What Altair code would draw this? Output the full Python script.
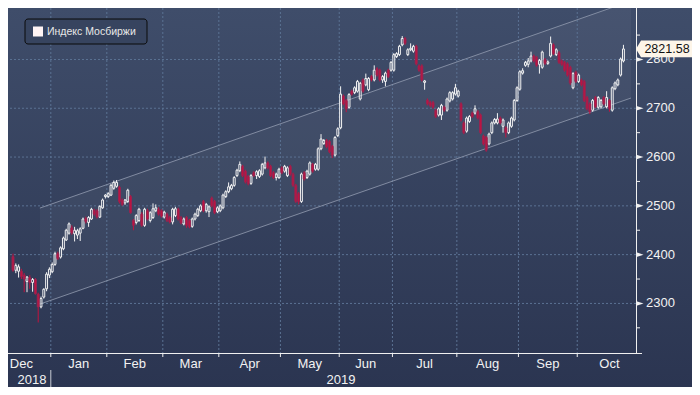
import altair as alt
import pandas as pd

# ---------------- data ----------------
FIRST_INDEX = -14  # trading-day index of first candle (0 = first trading day of January)

opens = [
    2396, 2368, 2366, 2366, 2358, 2345, 2353, 2343, 2349, 2319, 2293, 2313, 2330, 2358,
    2365, 2380, 2402, 2395, 2412, 2430, 2444, 2455, 2443, 2440, 2444, 2454, 2474, 2466, 2473, 2491, 2490, 2477, 2496, 2519,
    2519, 2522, 2536, 2540, 2538, 2512, 2506, 2509, 2519, 2470, 2466, 2470, 2483, 2460, 2490, 2470, 2476, 2490, 2493, 2490,
    2477, 2483, 2476, 2467, 2480, 2493, 2476, 2463, 2476, 2470, 2458, 2473, 2480, 2490, 2509, 2490, 2488, 2516, 2509, 2488,
    2490, 2496, 2519, 2529, 2535, 2542, 2562, 2572, 2581, 2571, 2560, 2546, 2568, 2562, 2560, 2565, 2578, 2588, 2581, 2568, 2558, 2558,
    2578, 2571, 2562, 2581, 2565, 2542, 2525, 2509, 2568, 2558, 2565, 2585, 2575, 2575, 2617, 2628, 2634, 2632, 2622, 2604, 2644,
    2660, 2725, 2716, 2702, 2735, 2732, 2735, 2719, 2758, 2748, 2738, 2765, 2758, 2781, 2778, 2758, 2755, 2778, 2778,
    2778, 2806, 2810, 2830, 2843, 2810, 2820, 2817, 2827, 2787, 2787, 2753, 2717, 2712, 2712, 2696, 2686, 2686, 2702, 2696, 2715, 2719, 2729,
    2725, 2709, 2670, 2653, 2673, 2690, 2690, 2693, 2686, 2643, 2640, 2627, 2650, 2670, 2670, 2680, 2663, 2660, 2650, 2663, 2676, 2716,
    2739, 2772, 2788, 2790, 2797, 2807, 2804, 2790, 2784, 2800, 2792, 2807, 2830, 2810, 2814, 2797, 2794, 2791, 2784, 2742, 2774,
    2755, 2758, 2755, 2722, 2709, 2696, 2722, 2702, 2703, 2722, 2703, 2716, 2696, 2740, 2748, 2768, 2797,
]
highs = [
    2402, 2382, 2380, 2371, 2362, 2356, 2358, 2352, 2352, 2322, 2314, 2331, 2364, 2374,
    2384, 2406, 2406, 2417, 2437, 2453, 2466, 2460, 2457, 2453, 2456, 2476, 2478, 2479, 2496, 2494, 2493, 2501, 2515, 2524,
    2528, 2545, 2552, 2553, 2541, 2515, 2514, 2535, 2522, 2473, 2483, 2496, 2487, 2496, 2494, 2489, 2505, 2503, 2497, 2493,
    2490, 2486, 2479, 2496, 2498, 2496, 2479, 2476, 2479, 2473, 2476, 2486, 2496, 2503, 2512, 2506, 2501, 2519, 2512, 2499,
    2503, 2525, 2532, 2548, 2545, 2561, 2576, 2591, 2584, 2574, 2563, 2565, 2571, 2573, 2575, 2588, 2601, 2591, 2584, 2571, 2568, 2578,
    2581, 2584, 2581, 2584, 2568, 2545, 2528, 2568, 2571, 2574, 2591, 2588, 2588, 2620, 2647, 2637, 2637, 2635, 2625, 2643, 2661,
    2745, 2728, 2719, 2731, 2738, 2745, 2758, 2754, 2761, 2771, 2764, 2768, 2788, 2784, 2781, 2768, 2775, 2781, 2797,
    2813, 2815, 2830, 2848, 2846, 2823, 2833, 2830, 2830, 2790, 2790, 2758, 2720, 2715, 2715, 2699, 2702, 2709, 2705, 2722, 2735, 2735, 2750,
    2738, 2712, 2673, 2683, 2686, 2693, 2706, 2696, 2689, 2646, 2643, 2650, 2673, 2680, 2690, 2683, 2679, 2663, 2673, 2683, 2719, 2745,
    2778, 2782, 2797, 2803, 2816, 2810, 2807, 2801, 2818, 2803, 2798, 2847, 2833, 2823, 2817, 2800, 2797, 2794, 2787, 2774, 2777,
    2771, 2761, 2758, 2725, 2712, 2719, 2725, 2725, 2719, 2725, 2735, 2719, 2745, 2755, 2761, 2804, 2830,
]
lows = [
    2365, 2362, 2353, 2350, 2323, 2323, 2330, 2324, 2318, 2261, 2290, 2310, 2325, 2352,
    2362, 2377, 2389, 2392, 2409, 2428, 2441, 2441, 2427, 2432, 2428, 2452, 2464, 2457, 2471, 2480, 2474, 2475, 2494, 2515,
    2516, 2520, 2533, 2537, 2505, 2500, 2502, 2506, 2484, 2450, 2462, 2467, 2457, 2457, 2470, 2466, 2473, 2487, 2480, 2476,
    2474, 2467, 2464, 2462, 2477, 2470, 2462, 2460, 2455, 2454, 2455, 2470, 2477, 2487, 2487, 2486, 2477, 2497, 2483, 2485,
    2487, 2493, 2516, 2526, 2532, 2539, 2559, 2569, 2559, 2546, 2542, 2543, 2559, 2555, 2557, 2562, 2575, 2575, 2559, 2555, 2552, 2555,
    2565, 2568, 2559, 2562, 2539, 2506, 2503, 2506, 2552, 2555, 2562, 2568, 2572, 2572, 2614, 2625, 2618, 2608, 2598, 2601, 2641,
    2657, 2706, 2692, 2699, 2726, 2729, 2732, 2716, 2732, 2745, 2735, 2755, 2755, 2765, 2755, 2752, 2745, 2762, 2775,
    2775, 2803, 2807, 2827, 2830, 2807, 2817, 2814, 2788, 2775, 2755, 2738, 2706, 2703, 2699, 2680, 2683, 2676, 2693, 2693, 2712, 2716, 2726,
    2722, 2673, 2647, 2650, 2670, 2680, 2687, 2677, 2647, 2624, 2611, 2624, 2647, 2667, 2667, 2667, 2650, 2640, 2647, 2660, 2673, 2713,
    2736, 2769, 2785, 2784, 2794, 2794, 2785, 2771, 2781, 2789, 2789, 2804, 2809, 2807, 2791, 2787, 2775, 2765, 2748, 2739, 2752,
    2752, 2745, 2713, 2696, 2688, 2693, 2700, 2699, 2700, 2706, 2700, 2693, 2693, 2737, 2745, 2765, 2794,
]
closes = [
    2368, 2378, 2375, 2355, 2350, 2354, 2343, 2349, 2320, 2293, 2310, 2329, 2360, 2370,
    2380, 2402, 2392, 2414, 2434, 2450, 2463, 2445, 2450, 2449, 2453, 2473, 2468, 2476, 2493, 2483, 2477, 2499, 2512, 2522,
    2525, 2542, 2548, 2548, 2509, 2503, 2512, 2532, 2486, 2460, 2480, 2493, 2460, 2493, 2473, 2486, 2494, 2496, 2483, 2479,
    2487, 2470, 2467, 2493, 2494, 2473, 2465, 2473, 2460, 2457, 2473, 2483, 2493, 2500, 2490, 2503, 2498, 2500, 2486, 2496,
    2500, 2522, 2529, 2539, 2542, 2558, 2573, 2585, 2562, 2549, 2545, 2562, 2562, 2570, 2572, 2585, 2588, 2578, 2562, 2558, 2565, 2575,
    2568, 2581, 2578, 2565, 2542, 2509, 2508, 2565, 2555, 2571, 2588, 2571, 2585, 2617, 2637, 2634, 2621, 2611, 2604, 2640, 2658,
    2729, 2709, 2699, 2728, 2729, 2742, 2755, 2751, 2735, 2761, 2761, 2758, 2778, 2768, 2758, 2765, 2772, 2765, 2794,
    2810, 2812, 2827, 2843, 2833, 2820, 2823, 2827, 2791, 2778, 2758, 2756, 2709, 2706, 2702, 2683, 2699, 2706, 2696, 2719, 2732, 2732, 2742,
    2735, 2676, 2650, 2680, 2683, 2683, 2699, 2680, 2650, 2627, 2614, 2647, 2670, 2677, 2678, 2670, 2676, 2650, 2670, 2680, 2716, 2742,
    2775, 2777, 2794, 2797, 2807, 2797, 2788, 2798, 2815, 2792, 2795, 2833, 2812, 2820, 2794, 2790, 2778, 2768, 2752, 2771, 2755,
    2768, 2748, 2716, 2699, 2693, 2716, 2703, 2722, 2716, 2709, 2722, 2699, 2742, 2752, 2758, 2801, 2821.58,
]

month_labels = ["Dec", "Jan", "Feb", "Mar", "Apr", "May", "Jun", "Jul", "Aug", "Sep", "Oct"]
month_label_pos = [-11, 9.5, 29.5, 49.5, 70.5, 92, 112, 133, 155.5, 177, 199]
month_bounds = [-0.5, 19.5, 39.5, 59.5, 81.5, 102.5, 121.5, 144.5, 166.5, 187.5]
year_labels = ["2018", "2019"]
year_label_pos = [-7.25, 103.1]
year_divider = [-0.5]
y_major = [2300, 2400, 2500, 2600, 2700, 2800]
y_labels = ["2300", "2400", "2500", "2600", "2700", "2800"]
y_minor = [2250, 2350, 2450, 2550, 2650, 2750, 2850]
channel_x = [-4.4, 206.7]
channel_lower = [2298.6, 2721.0]
channel_upper = [2495.4, 2920.0]
last_value = 2821.58
last_label = "2821.58"
series_name = "Индекс Мосбиржи"

X_DOMAIN = [-14, 206.7]
Y_DOMAIN = [2198.4, 2905.5]

# ---------------- styling ----------------
W, H = 628, 345
PAD_R, PAD_B = 56, 34
FONT = "Liberation Sans"
UP = "#f4f4f4"
DOWN = "#c3123f"
DOWN_EDGE = "#9a2350"
GRID = "#5b7293"
AX = "#f0f0f0"
TXT = "#f2f2f2"
CHAN_LINE = "#8d97ab"

xs = alt.Scale(domain=X_DOMAIN, nice=False, zero=False)
ys = alt.Scale(domain=Y_DOMAIN, nice=False, zero=False)

idx = list(range(FIRST_INDEX, FIRST_INDEX + len(closes)))
df = pd.DataFrame({"i": idx, "open": opens, "high": highs, "low": lows, "close": closes})
df["body_lo"] = df[["open", "close"]].min(axis=1)
df["body_hi"] = df[["open", "close"]].max(axis=1)
up = df[df["close"] >= df["open"]]
down = df[df["close"] < df["open"]]

one = pd.DataFrame({"k": [0]})


def X(field):
    return alt.X(field, scale=xs, axis=None, title=None)


def Y(field):
    return alt.Y(field, scale=ys, axis=None, title=None)


bg = alt.Chart(one).mark_rect(
    fill=alt.LinearGradient(
        gradient="linear",
        stops=[alt.GradientStop(color="#3f4d6a", offset=0),
               alt.GradientStop(color="#2b3551", offset=1)],
        x1=0, x2=0, y1=0, y2=1,
    )
).encode(x=alt.value(0), x2=alt.value(W + PAD_R), y=alt.value(0), y2=alt.value(H + PAD_B))

chan = pd.DataFrame({"i": channel_x, "lower": channel_lower, "upper": channel_upper})
chan_area = alt.Chart(chan).mark_area(color="#ffffff", opacity=0.045, clip=True).encode(
    x=X("i:Q"), y=Y("lower:Q"), y2="upper:Q")
chan_lines = alt.Chart(chan).transform_fold(["lower", "upper"], as_=["edge", "v"]).mark_line(
    color=CHAN_LINE, strokeWidth=1, opacity=0.85, clip=True).encode(
    x=X("i:Q"), y=Y("v:Q"), detail="edge:N")

y_grid = alt.Chart(pd.DataFrame({"v": y_major})).mark_rule(
    color=GRID, strokeDash=[2, 2], strokeWidth=1).encode(y=Y("v:Q"))
x_grid = alt.Chart(pd.DataFrame({"b": month_bounds})).mark_rule(
    color=GRID, strokeDash=[2, 2], strokeWidth=1).encode(x=X("b:Q"))

# candles
up_wick_lo = alt.Chart(up).mark_rule(color=UP, strokeWidth=1).encode(
    x=X("i:Q"), y=Y("low:Q"), y2="body_lo:Q")
up_wick_hi = alt.Chart(up).mark_rule(color=UP, strokeWidth=1).encode(
    x=X("i:Q"), y=Y("body_hi:Q"), y2="high:Q")
down_wick = alt.Chart(down).mark_rule(color=DOWN, strokeWidth=1).encode(
    x=X("i:Q"), y=Y("low:Q"), y2="high:Q")
up_body = alt.Chart(up).mark_bar(size=1.9, color=UP, fillOpacity=0, stroke=UP, strokeWidth=1).encode(
    x=X("i:Q"), y=Y("body_lo:Q"), y2="body_hi:Q")
down_body = alt.Chart(down).mark_bar(size=1.9, color=DOWN, stroke=DOWN_EDGE, strokeWidth=1).encode(
    x=X("i:Q"), y=Y("body_lo:Q"), y2="body_hi:Q")

# axes (drawn through the scales)
y_domain_line = alt.Chart(one).mark_rule(color=AX, strokeWidth=1).encode(
    x=alt.value(W + 0.5), y=alt.value(0), y2=alt.value(H))
x_domain_line = alt.Chart(one).mark_rule(color=AX, strokeWidth=1).encode(
    x=alt.value(0), x2=alt.value(W + 6), y=alt.value(H + 0.5))
y_minor_ticks = alt.Chart(pd.DataFrame({"v": y_minor})).mark_rule(color=AX, strokeWidth=1).encode(
    x=alt.value(W), x2=alt.value(W + 4), y=Y("v:Q"))
x_ticks = alt.Chart(pd.DataFrame({"b": month_bounds})).mark_rule(color=AX, strokeWidth=1).encode(
    x=X("b:Q"), y=alt.value(H), y2=alt.value(H + 4))
flags = alt.Chart(pd.DataFrame({"v": y_major})).mark_point(
    shape="M-1,-0.65L1,0L-1,0.65Z", filled=True, color=AX, size=49, opacity=1).encode(
    x=alt.value(W + 4), y=Y("v:Q"))
y_text = alt.Chart(pd.DataFrame({"v": y_major, "t": y_labels})).mark_text(
    font=FONT, fontSize=13, color=TXT, align="left", baseline="middle").encode(
    x=alt.value(W + 10), y=Y("v:Q"), text="t:N")

months = alt.Chart(pd.DataFrame({"pos": month_label_pos, "name": month_labels})).mark_text(
    font=FONT, fontSize=13, color=TXT, align="center", baseline="alphabetic").encode(
    x=X("pos:Q"), y=alt.value(H + 15), text="name:N")
years = alt.Chart(pd.DataFrame({"pos": year_label_pos, "name": year_labels})).mark_text(
    font=FONT, fontSize=13, color=TXT, align="center", baseline="alphabetic").encode(
    x=X("pos:Q"), y=alt.value(H + 31), text="name:N")
year_rule = alt.Chart(pd.DataFrame({"b": year_divider})).mark_rule(
    color="#c8ccd4", strokeWidth=1).encode(x=X("b:Q"), y=alt.value(H + 17), y2=alt.value(H + 34))

lp = pd.DataFrame({"v": [last_value], "t": [last_label]})
lp_box = alt.Chart(lp).mark_point(
    shape="M-1,0L-0.82,-0.3L1,-0.3L1,0.3L-0.82,0.3Z", filled=True, color="#fdf5e8",
    size=56 * 56, opacity=1).encode(x=alt.value(W + 28), y=Y("v:Q"))
lp_text = alt.Chart(lp).mark_text(font=FONT, fontSize=12.5, color="#111111",
                                  align="center", baseline="middle").encode(
    x=alt.value(W + 31), y=Y("v:Q"), text="t:N")

leg_box = alt.Chart(one).mark_rect(fill="#37445f", stroke="#0b0b0b", strokeWidth=1,
                                   cornerRadius=3).encode(
    x=alt.value(17), x2=alt.value(139), y=alt.value(11), y2=alt.value(36))
leg_sq = alt.Chart(one).mark_rect(fill="#fff4f4").encode(
    x=alt.value(25), x2=alt.value(35), y=alt.value(18.5), y2=alt.value(28.5))
leg_text = alt.Chart(one).mark_text(font=FONT, fontSize=10.5, color="#e8e8e8",
                                    align="left", baseline="middle").encode(
    x=alt.value(39), y=alt.value(23.5), text=alt.value(series_name))

chart = alt.layer(
    bg, chan_area, y_grid, x_grid, chan_lines, year_rule,
    up_wick_lo, up_wick_hi, down_wick, up_body, down_body,
    y_domain_line, x_domain_line, y_minor_ticks, x_ticks, flags, y_text,
    months, years, lp_box, lp_text, leg_box, leg_sq, leg_text,
).properties(
    width=W, height=H,
    padding={"left": 0, "top": 0, "right": PAD_R, "bottom": PAD_B},
    autosize=alt.AutoSizeParams(type="none"),
    background="#2c3753",
).configure_view(stroke=None)

chart.save("out.html", embed_options={"renderer": "svg", "actions": False})
